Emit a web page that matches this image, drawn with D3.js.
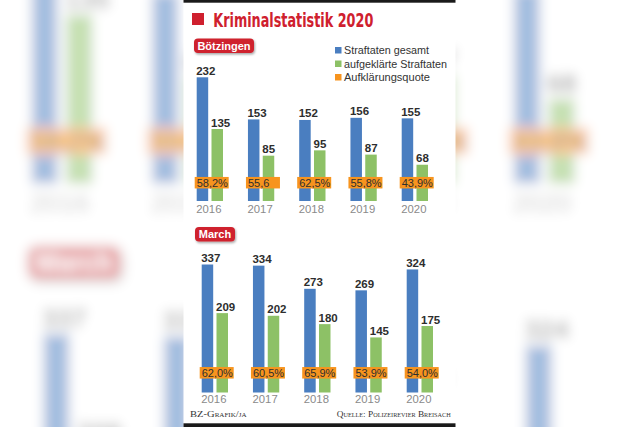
<!DOCTYPE html>
<html>
<head>
<meta charset="utf-8">
<script src="https://cdn.jsdelivr.net/npm/d3@7"></script>
<style>
  html, body { margin: 0; padding: 0; background: #fff; }
  svg { display: block; }
</style>
</head>
<body>
<svg id="chart" width="640" height="427"></svg>
<script>
// ---------- DATA ----------
const years = ["2016", "2017", "2018", "2019", "2020"];
const seriesNames = ["Straftaten gesamt", "aufgeklärte Straftaten", "Aufklärungsquote"];

const boetzGesamt = [232, 153, 152, 156, 155];
const boetzAufgeklaert = [135, 85, 95, 87, 68];
const boetzQuote = ["58,2%", "55,6", "62,5%", "55,8%", "43,9%"];

const marchGesamt = [337, 334, 273, 269, 324];
const marchAufgeklaert = [209, 202, 180, 145, 175];
const marchQuote = ["62,0%", "60,5%", "65,9%", "53,9%", "54,0%"];

const titleText = "Kriminalstatistik 2020";
const creditLeft = "BZ-Grafik/ja";
const creditRight = "Quelle: Polizeirevier Breisach";

// ---------- STYLE ----------
const C = {
  blue: "#4a7ec0",
  green: "#8dc166",
  orange: "#f7941e",
  red: "#cf202e",
  text: "#2e2e2e",
  year: "#8a8a8a"
};
const SANS = "'Liberation Sans', Arial, sans-serif";
const SERIF = "'Liberation Serif', 'DejaVu Serif', serif";

const svg = d3.select("#chart");
const defs = svg.append("defs");
defs.append("filter").attr("id", "bgblur")
  .attr("filterUnits", "userSpaceOnUse")
  .attr("x", -50).attr("y", -50).attr("width", 740).attr("height", 527)
  .append("feGaussianBlur").attr("stdDeviation", 6);
const sh = defs.append("filter").attr("id", "badgeShadow")
  .attr("x", "-20%").attr("y", "-30%").attr("width", "150%").attr("height", "180%");
sh.append("feDropShadow").attr("dx", 1).attr("dy", 1.5).attr("stdDeviation", 1)
  .attr("flood-color", "#000").attr("flood-opacity", 0.35);

const PANEL_W = 272, PANEL_H = 427, PANEL_X = 184;

function drawSection(g, cfg) {
  const x = d3.scaleBand().domain(years)
    .range([cfg.x0, cfg.x0 + 51.25 * (years.length - 0.487)])
    .paddingInner(0.487).paddingOuter(0);
  const xs = d3.scaleBand().domain(["g", "a"]).range([0, x.bandwidth()])
    .paddingInner(0.223).paddingOuter(0);
  const y = d3.scaleLinear().domain([0, cfg.refVal]).range([cfg.baseline, cfg.refTop]);

  // badge
  const b = g.append("g").attr("filter", "url(#badgeShadow)");
  b.append("rect").attr("x", cfg.badge.x).attr("y", cfg.badge.y)
    .attr("width", cfg.badge.w).attr("height", 14.5).attr("rx", 4)
    .attr("fill", C.red);
  g.append("text").attr("x", cfg.badge.x + cfg.badge.w / 2).attr("y", cfg.badge.y + 11)
    .attr("text-anchor", "middle").attr("font-family", SANS).attr("font-weight", "bold")
    .attr("font-size", 11).attr("fill", "#fff").text(cfg.name);

  const rows = years.map((yr, i) => ({
    yr, g: cfg.gesamt[i], a: cfg.aufg[i], q: cfg.quote[i]
  }));

  const grp = g.selectAll("g.yr").data(rows).join("g").attr("class", "yr")
    .attr("transform", d => `translate(${x(d.yr)},0)`);

  const bars = [
    { key: "g", col: C.blue, acc: d => d.g },
    { key: "a", col: C.green, acc: d => d.a }
  ];
  bars.forEach(s => {
    grp.append("rect")
      .attr("x", xs(s.key)).attr("width", xs.bandwidth())
      .attr("y", d => y(s.acc(d))).attr("height", d => y(0) - y(s.acc(d)))
      .attr("fill", s.col);
    grp.append("text")
      .attr("x", xs(s.key) - 0.5).attr("y", d => y(s.acc(d)) - 2.5)
      .attr("font-family", SANS).attr("font-weight", "bold").attr("font-size", 11.5)
      .attr("fill", C.text).text(d => s.acc(d));
  });

  // quote boxes
  grp.append("rect").attr("x", -2).attr("y", cfg.quoteY - 5.75)
    .attr("width", 34).attr("height", 11.5).attr("fill", C.orange);
  grp.append("text").attr("x", 0).attr("y", cfg.quoteY + 4)
    .attr("font-family", SANS).attr("font-size", 11).attr("fill", C.text)
    .text(d => d.q);

  // year labels
  grp.append("text").attr("x", x.bandwidth() / 2 - 1).attr("y", cfg.yearY)
    .attr("text-anchor", "middle").attr("font-family", SANS).attr("font-size", 11.3)
    .attr("fill", C.year).text(d => d.yr);
}

function drawChart(g) {
  g.append("rect").attr("width", PANEL_W).attr("height", PANEL_H).attr("fill", "#fff");
  g.append("rect").attr("width", PANEL_W).attr("height", 2.7).attr("fill", "#1a1a1a");
  g.append("rect").attr("y", 423.3).attr("width", PANEL_W).attr("height", 3.7).attr("fill", "#1a1a1a");

  // title
  g.append("rect").attr("x", 8.5).attr("y", 13).attr("width", 12).attr("height", 12)
    .attr("fill", C.red);
  g.append("text").attr("x", 29.8).attr("y", 27)
    .attr("font-family", "'DejaVu Sans Condensed', 'Liberation Sans Narrow', 'Liberation Sans', sans-serif")
    .attr("font-weight", "bold").attr("font-size", 19).attr("fill", C.red)
    .attr("textLength", 160).attr("lengthAdjust", "spacingAndGlyphs")
    .text(titleText);

  // legend
  const legCols = [C.blue, C.green, C.orange];
  const legY = d3.scalePoint().domain(seriesNames).range([50.3, 77.3]);
  const legLen = [85, 103, 86];
  const lg = g.selectAll("g.leg").data(seriesNames).join("g").attr("class", "leg")
    .attr("transform", d => `translate(151.5,${legY(d)})`);
  lg.append("rect").attr("x", 0).attr("y", -3.3).attr("width", 6.5).attr("height", 6.5)
    .attr("fill", (d, i) => legCols[i]);
  lg.append("text").attr("x", 9).attr("y", 4)
    .attr("font-family", SANS).attr("font-size", 11.5).attr("fill", "#333")
    .attr("textLength", (d, i) => legLen[i]).attr("lengthAdjust", "spacingAndGlyphs")
    .text(d => d);

  drawSection(g.append("g"), {
    name: "Bötzingen", gesamt: boetzGesamt, aufg: boetzAufgeklaert, quote: boetzQuote,
    x0: 13.2, baseline: 201, refVal: 232, refTop: 77.3,
    badge: { x: 10.5, y: 38.5, w: 60 }, quoteY: 182.7, yearY: 212.8
  });
  drawSection(g.append("g"), {
    name: "March", gesamt: marchGesamt, aufg: marchAufgeklaert, quote: marchQuote,
    x0: 18.2, baseline: 392.5, refVal: 337, refTop: 264.5,
    badge: { x: 11.5, y: 227, w: 40 }, quoteY: 372.8, yearY: 403.3
  });

  // credits
  g.append("text").attr("x", 6.5).attr("y", 417.3)
    .attr("font-family", SERIF).attr("font-size", 9).attr("font-variant", "small-caps")
    .attr("fill", "#333").attr("textLength", 56.5).attr("lengthAdjust", "spacingAndGlyphs")
    .text(creditLeft);
  g.append("text").attr("x", 267.2 - 114).attr("y", 417.3)
    .attr("font-family", SERIF).attr("font-size", 9).attr("font-variant", "small-caps")
    .attr("fill", "#333").attr("textLength", 114).attr("lengthAdjust", "spacingAndGlyphs")
    .text(creditRight);
}

// blurred, enlarged backdrop
const S = 640 / PANEL_W;
const bg = svg.append("g").attr("filter", "url(#bgblur)")
  .append("g")
  .attr("transform", `translate(320,213.5) scale(${S}) translate(${-PANEL_W / 2},${-PANEL_H / 2})`);
drawChart(bg);
svg.append("rect").attr("width", 640).attr("height", 427).attr("fill", "#fff").attr("opacity", 0.5);

// foreground chart
const fg = svg.append("g").attr("transform", `translate(${PANEL_X - 0.5},0)`);
drawChart(fg);
</script>
</body>
</html>
